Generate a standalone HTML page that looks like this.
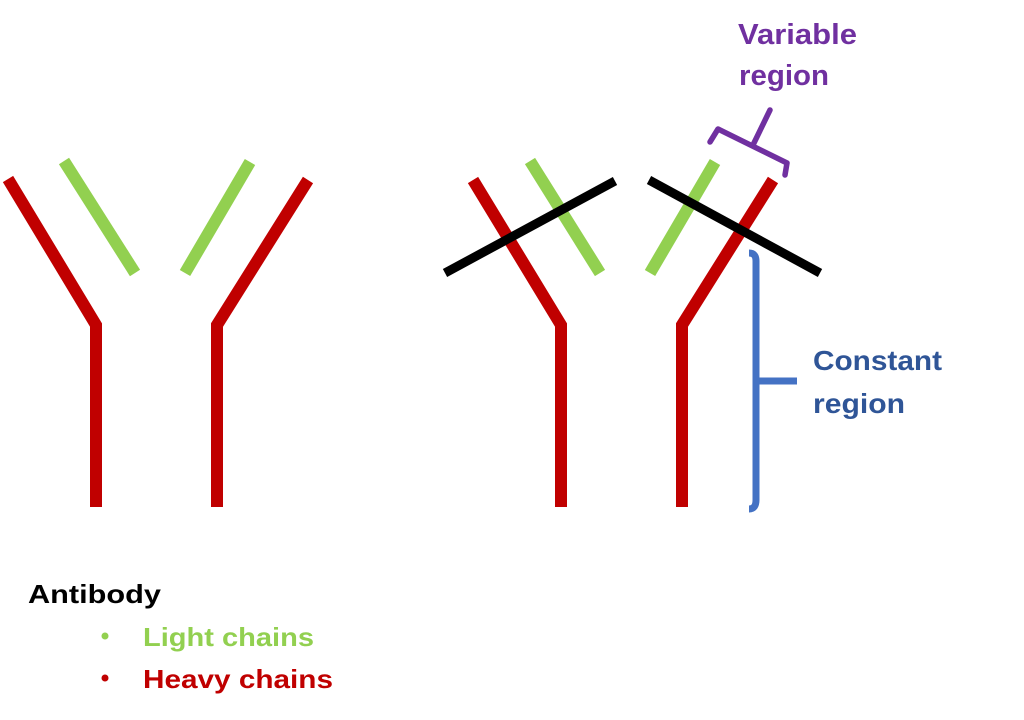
<!DOCTYPE html>
<html>
<head>
<meta charset="utf-8">
<style>
  html,body{margin:0;padding:0;background:#fff;}
  body{width:1024px;height:720px;overflow:hidden;}
  svg{display:block;}
  text{font-family:"Liberation Sans",sans-serif;font-weight:bold;}
</style>
</head>
<body>
<svg width="1024" height="720" viewBox="0 0 1024 720" xmlns="http://www.w3.org/2000/svg">
  <rect width="1024" height="720" fill="#fff"/>
  <!-- Left antibody -->
  <g fill="none" stroke-linecap="butt" stroke-linejoin="miter">
    <polyline points="8,179 96,325 96,507" stroke="#C00000" stroke-width="12"/>
    <polyline points="308,180 217,325 217,507" stroke="#C00000" stroke-width="12"/>
    <line x1="64" y1="161" x2="135" y2="273" stroke="#92D050" stroke-width="12"/>
    <line x1="250" y1="162" x2="185" y2="273" stroke="#92D050" stroke-width="12"/>
  </g>
  <!-- Right antibody -->
  <g fill="none" stroke-linecap="butt" stroke-linejoin="miter">
    <polyline points="473,180 561,325 561,507" stroke="#C00000" stroke-width="12"/>
    <polyline points="773,180 682,325 682,507" stroke="#C00000" stroke-width="12"/>
    <line x1="530" y1="161" x2="600" y2="273" stroke="#92D050" stroke-width="12"/>
    <line x1="715" y1="162" x2="650" y2="273" stroke="#92D050" stroke-width="12"/>
    <line x1="445" y1="273" x2="615" y2="181" stroke="#000" stroke-width="9"/>
    <line x1="649" y1="180" x2="820" y2="273" stroke="#000" stroke-width="9"/>
  </g>
  <!-- Variable region bracket -->
  <g fill="none" stroke="#7030A0" stroke-width="5.5" stroke-linecap="round" stroke-linejoin="round">
    <polyline points="710,142 718,129 787,163 785,175"/>
    <line x1="753" y1="145" x2="770" y2="110"/>
  </g>
  <text x="738" y="44" font-size="29" fill="#7030A0" textLength="119" lengthAdjust="spacingAndGlyphs">Variable</text>
  <text x="739" y="85" font-size="29" fill="#7030A0" textLength="90" lengthAdjust="spacingAndGlyphs">region</text>
  <!-- Constant region bracket -->
  <g fill="none" stroke="#4472C4" stroke-width="7" stroke-linecap="butt" stroke-linejoin="round">
    <path d="M 749 253 Q 756 253 756 261 L 756 500 Q 756 509 749 509"/>
    <line x1="756" y1="381" x2="797" y2="381"/>
  </g>
  <text x="813" y="370" font-size="28" fill="#2F5597" textLength="129" lengthAdjust="spacingAndGlyphs">Constant</text>
  <text x="813" y="413" font-size="28" fill="#2F5597" textLength="92" lengthAdjust="spacingAndGlyphs">region</text>
  <!-- Legend -->
  <text x="28" y="603" font-size="26" fill="#000" textLength="133" lengthAdjust="spacingAndGlyphs">Antibody</text>
  <circle cx="105" cy="636" r="3.5" fill="#92D050"/>
  <text x="143" y="646" font-size="26" fill="#92D050" textLength="171" lengthAdjust="spacingAndGlyphs">Light chains</text>
  <circle cx="105" cy="678" r="3.5" fill="#C00000"/>
  <text x="143" y="688" font-size="26" fill="#C00000" textLength="190" lengthAdjust="spacingAndGlyphs">Heavy chains</text>
</svg>
</body>
</html>
